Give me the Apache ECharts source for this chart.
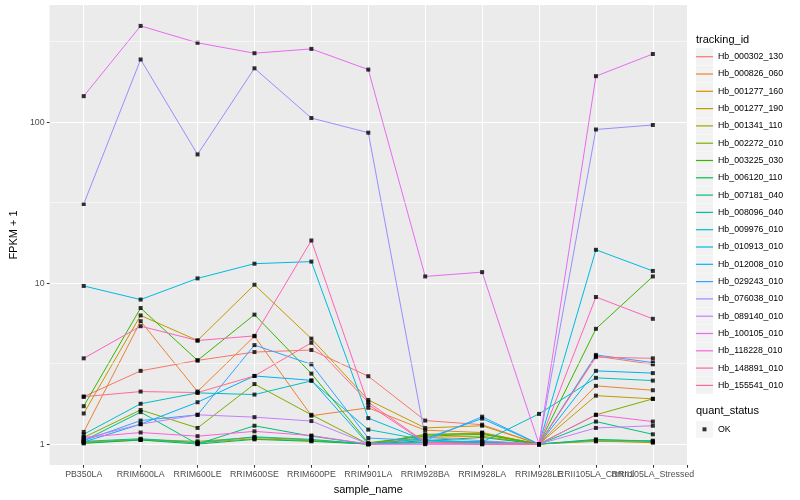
<!DOCTYPE html>
<html><head><meta charset="utf-8">
<script src="https://cdn.jsdelivr.net/npm/echarts@6/dist/echarts.min.js"></script>
<style>html,body{margin:0;padding:0;background:#fff}#c{width:800px;height:500px}</style>
</head><body><div id="c"></div>
<script>
const categories = ['PB350LA','RRIM600LA','RRIM600LE','RRIM600SE','RRIM600PE','RRIM901LA','RRIM928BA','RRIM928LA','RRIM928LE','RRII105LA_Control','RRII105LA_Stressed'];

const hb_000302_130 = [1.97, 2.85, 3.31, 3.73, 3.84, 2.64, 1.40, 1.32, 1.0, 3.52, 3.13];
const hb_000826_060 = [1.19, 5.8, 2.12, 4.68, 1.50, 1.68, 1.22, 1.18, 1.0, 2.30, 2.16];
const hb_001277_160 = [1.02, 1.06, 1.02, 1.08, 1.05, 1.0, 1.10, 1.12, 1.0, 1.05, 1.02];
const hb_001277_190 = [1.55, 6.3, 4.4, 9.77, 4.52, 1.88, 1.26, 1.30, 1.0, 2.0, 1.91];
const hb_001341_110 = [1.03, 1.07, 1.04, 1.10, 1.06, 1.0, 1.14, 1.16, 1.0, 1.04, 1.03];
const hb_002272_010 = [1.10, 1.63, 1.26, 2.36, 1.52, 1.0, 1.15, 1.17, 1.0, 1.52, 1.91];
const hb_003225_030 = [1.72, 7.0, 3.31, 6.37, 2.74, 1.02, 1.12, 1.15, 1.0, 5.2, 11.0];
const hb_006120_110 = [1.01, 1.06, 1.0, 1.07, 1.04, 1.0, 1.05, 1.10, 1.0, 1.07, 1.04];
const hb_007181_040 = [1.05, 1.58, 1.0, 1.30, 1.12, 1.0, 1.02, 1.03, 1.0, 1.38, 1.15];
const hb_008096_040 = [1.04, 1.08, 1.02, 1.11, 1.07, 1.0, 1.03, 1.04, 1.0, 1.06, 1.05];
const hb_009976_010 = [1.15, 1.78, 2.08, 2.03, 2.47, 1.23, 1.06, 1.03, 1.54, 2.58, 2.48];
const hb_010913_010 = [9.6, 7.9, 10.7, 13.2, 13.6, 1.45, 1.05, 1.02, 1.0, 16.1, 11.9];
const hb_012008_010 = [1.03, 1.33, 1.82, 2.65, 2.49, 1.0, 1.08, 1.44, 1.0, 2.85, 2.76];
const hb_029243_010 = [1.05, 1.40, 1.52, 4.12, 3.13, 1.09, 1.05, 1.48, 1.0, 3.58, 3.21];
const hb_076038_010 = [31, 245, 63, 216, 106, 86, 1.1, 1.05, 1.0, 90, 96];
const hb_089140_010 = [1.08, 1.33, 1.52, 1.47, 1.39, 1.0, 1.0, 1.0, 1.0, 1.26, 1.30];
const hb_100105_010 = [145, 396, 311, 268, 285, 212, 11.0, 11.7, 1.0, 193, 265];
const hb_118228_010 = [1.10, 1.18, 1.12, 1.20, 1.13, 1.0, 1.0, 1.0, 1.0, 1.52, 1.38];
const hb_148891_010 = [3.41, 5.4, 4.4, 4.7, 18.4, 1.76, 1.02, 1.0, 1.0, 8.2, 6.0];
const hb_155541_010 = [1.97, 2.12, 2.09, 2.65, 4.26, 1.82, 1.03, 1.0, 1.0, 3.47, 3.41];

const seriesNames = ['Hb_000302_130','Hb_000826_060','Hb_001277_160','Hb_001277_190','Hb_001341_110','Hb_002272_010','Hb_003225_030','Hb_006120_110','Hb_007181_040','Hb_008096_040','Hb_009976_010','Hb_010913_010','Hb_012008_010','Hb_029243_010','Hb_076038_010','Hb_089140_010','Hb_100105_010','Hb_118228_010','Hb_148891_010','Hb_155541_010'];
const seriesValues = [hb_000302_130, hb_000826_060, hb_001277_160, hb_001277_190, hb_001341_110, hb_002272_010, hb_003225_030, hb_006120_110, hb_007181_040, hb_008096_040, hb_009976_010, hb_010913_010, hb_012008_010, hb_029243_010, hb_076038_010, hb_089140_010, hb_100105_010, hb_118228_010, hb_148891_010, hb_155541_010];
const statusNames = ['OK'];

const yTickValues = [1, 10, 100];
const yMinorValues = [3.1623, 31.623, 316.23];

const seriesColors = ['#F8766D','#EA8331','#D89000','#C09B00','#A3A500','#7CAE00','#39B600','#00BB4E','#00BF7D','#00C1A3','#00BFC4','#00BAE0','#00B0F6','#35A2FF','#9590FF','#C77CFF','#E76BF3','#FA62DB','#FF62BC','#FF6C91'];
const FONT = '"Liberation Sans", Arial, Helvetica, sans-serif';

// discrete axis expansion of 0.6 units on each side, as in ggplot
const xMin = -0.6, xMax = categories.length - 1 + 0.6;
const xIdx = categories.map((_, i) => i);
// an empty label at the right edge absorbs the min/max overlap check so every category label stays visible
const xLabelVals = xIdx.concat([xMax]);
const allVals = seriesValues.flat();
const lmin = Math.log10(Math.min.apply(null, allVals));
const lmax = Math.log10(Math.max.apply(null, allVals));
const pad = (lmax - lmin) * 0.05;
const yMin = Math.pow(10, lmin - pad);
const yMax = Math.pow(10, lmax + pad);

const lineSeries = seriesNames.map((name, i) => ({
  name, type: 'line',
  data: seriesValues[i].map((v, j) => [j, v]),
  showSymbol: false, symbol: 'none',
  lineStyle: { color: seriesColors[i], width: 1 },
  itemStyle: { color: seriesColors[i] },
  emphasis: { disabled: true }, z: 2
}));
const pts = [];
seriesValues.forEach(arr => arr.forEach((v, j) => pts.push([j, v])));
const okSeries = { name: 'OK', type: 'scatter', data: pts, symbol: 'rect', symbolSize: 4,
  itemStyle: { color: '#000' }, z: 4, silent: true, emphasis: { disabled: true } };
const gridSeries = { name: '_minor', type: 'line', data: [], silent: true, z: 1,
  markLine: { silent: true, symbol: 'none', label: { show: false }, animation: false,
    lineStyle: { color: '#FFFFFF', width: 0.55, type: 'solid' },
    emphasis: { disabled: true },
    data: yMinorValues.map(v => ({ yAxis: v })) } };

const legTop = 48.2;
const chart = echarts.init(document.getElementById('c'));
chart.setOption({
  animation: false,
  backgroundColor: '#FFFFFF',
  title: [
    { text: 'tracking_id', left: 696, top: 34, padding: 0, textStyle: { fontSize: 11, fontWeight: 'normal', color: '#000', fontFamily: FONT } },
    { text: 'quant_status', left: 696, top: 405, padding: 0, textStyle: { fontSize: 11, fontWeight: 'normal', color: '#000', fontFamily: FONT } }
  ],
  grid: { left: 40, right: 113, top: 5, bottom: 32, show: true, backgroundColor: '#EBEBEB', borderWidth: 0, containLabel: false },
  legend: [
    { orient: 'vertical', left: 696, top: legTop, padding: 0, itemWidth: 17, itemHeight: 17, itemGap: 0.3, icon: 'rect', selectedMode: false, z: 2,
      data: seriesNames.map(n => ({ name: n, itemStyle: { color: '#F2F2F2', borderWidth: 0 } })),
      textStyle: { color: 'rgba(0,0,0,0)', fontSize: 8.8, fontFamily: FONT } },
    { orient: 'vertical', left: 696, top: legTop, padding: 0, itemWidth: 17, itemHeight: 17, itemGap: 0.3, symbolKeepAspect: true,
      icon: 'path://M0,0M17,17M0,7.9h17v1.2h-17z', selectedMode: false, z: 3,
      data: seriesNames.map((n, i) => ({ name: n, itemStyle: { color: seriesColors[i], borderWidth: 0 } })),
      textStyle: { color: '#000', fontSize: 8.8, fontFamily: FONT } },
    { orient: 'vertical', left: 696, top: 420.8, padding: 0, itemWidth: 17, itemHeight: 17, icon: 'rect', selectedMode: false, z: 2,
      data: statusNames.map(n => ({ name: n, itemStyle: { color: '#F2F2F2', borderWidth: 0 } })),
      textStyle: { color: 'rgba(0,0,0,0)', fontSize: 8.8, fontFamily: FONT } },
    { orient: 'vertical', left: 696, top: 420.8, padding: 0, itemWidth: 17, itemHeight: 17, symbolKeepAspect: true,
      icon: 'path://M0,0M17,17M6.5,6.5h4v4h-4z', selectedMode: false, z: 3,
      data: statusNames.map(n => ({ name: n, itemStyle: { color: '#000', borderWidth: 0 } })),
      textStyle: { color: '#000', fontSize: 8.8, fontFamily: FONT } }
  ],
  xAxis: {
    type: 'value', min: xMin, max: xMax,
    name: 'sample_name', nameLocation: 'middle', nameGap: 19,
    nameTextStyle: { fontSize: 11, color: '#000', fontFamily: FONT },
    axisLine: { show: false, onZero: false },
    axisTick: { show: true, length: 2.74, lineStyle: { color: '#333333', width: 1.07 }, customValues: xLabelVals },
    axisLabel: { customValues: xLabelVals, formatter: v => { const k = Math.round(v); return (Math.abs(v - k) < 1e-6 && categories[k]) ? categories[k] : ''; },
      color: '#4D4D4D', fontSize: 8.8, margin: 5, fontFamily: FONT, hideOverlap: false },
    splitLine: { show: true, lineStyle: { color: '#FFFFFF', width: 1.07 } }
  },
  yAxis: {
    type: 'log', logBase: 10, min: yMin, max: yMax,
    name: 'FPKM + 1', nameLocation: 'middle', nameGap: 27,
    nameTextStyle: { fontSize: 11, color: '#000', fontFamily: FONT },
    axisLine: { show: false, onZero: false },
    axisTick: { show: true, length: 2.74, lineStyle: { color: '#333333', width: 1.07 }, customValues: yTickValues },
    axisLabel: { customValues: yTickValues, formatter: v => String(Math.round(v)), color: '#4D4D4D', fontSize: 8.8, margin: 5, fontFamily: FONT, showMinLabel: true, showMaxLabel: true },
    splitLine: { show: true, lineStyle: { color: '#FFFFFF', width: 1.07 } },
    minorSplitLine: { show: false }
  },
  series: [gridSeries].concat(lineSeries, [okSeries])
});
</script></body></html>
